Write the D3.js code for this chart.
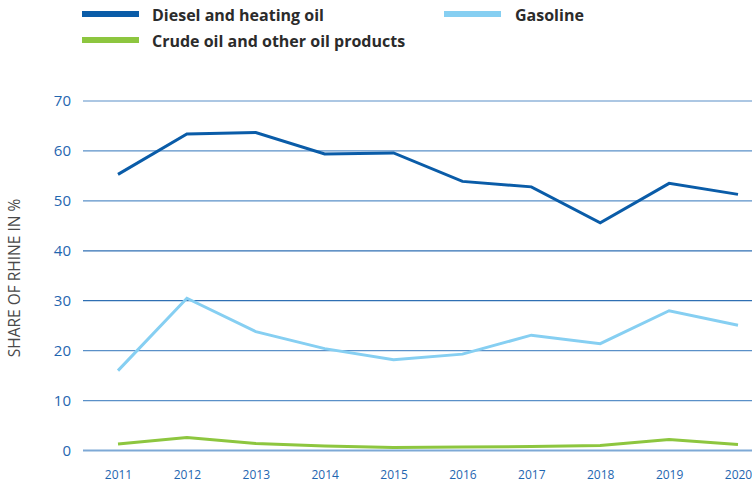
<!DOCTYPE html>
<html><head><meta charset="utf-8">
<script src="https://cdn.jsdelivr.net/npm/d3@7/dist/d3.min.js"></script>
<style>body{margin:0;background:#fff}svg{display:block}</style>
</head><body><svg id="c" width="752" height="482"></svg>
<script>
const years = [2011,2012,2013,2014,2015,2016,2017,2018,2019,2020];
const diesel = [55.3,63.4,63.7,59.4,59.6,53.9,52.8,45.6,53.5,51.3];
const gasoline = [16.0,30.5,23.8,20.4,18.2,19.3,23.1,21.4,28.0,25.1];
const crude = [1.3,2.6,1.4,0.9,0.6,0.7,0.8,1.0,2.2,1.2];
const yTicks = [0,10,20,30,40,50,60,70];
const seriesNames = ["Diesel and heating oil","Gasoline","Crude oil and other oil products"];
const colors = ["#0a5ca8","#86cff2","#8dc63f"];

const svg = d3.select("#c");
const x = d3.scalePoint().domain(years).range([118,738]);
const y = d3.scaleLinear().domain([0,70]).range([450.5,101]);

// grid
svg.append("g").selectAll("line").data(yTicks).join("line")
  .attr("x1",83).attr("x2",752)
  .attr("y1",d=>y(d)).attr("y2",d=>y(d))
  .attr("stroke",d=>d===0?"#7ea9d6":(d===30||d===40?"#2f6fb3":"#5a90c8"))
  .attr("stroke-width",d=>d===0?2:1.2);

// y labels
const yAxis = d3.axisLeft(y).tickValues(yTicks).tickSize(0).tickPadding(0);
const ga = svg.append("g").attr("transform","translate(71,0)").call(yAxis);
ga.select(".domain").remove();
ga.selectAll("text").attr("fill","#1f66b0").style("font-family","'Open Sans',sans-serif").style("font-size","15px");

// x labels
const xAxis = d3.axisBottom(x).tickSize(0).tickPadding(0);
const gx = svg.append("g").attr("transform","translate(0,470)").call(xAxis);
gx.select(".domain").remove();
gx.selectAll("text").attr("fill","#1f66b0").style("font-family","'Open Sans',sans-serif").style("font-size","12px");

// y title
svg.append("text").attr("transform","translate(20,278) rotate(-90)")
  .attr("text-anchor","middle").attr("fill","#4a4a4a")
  .style("font-family","'Open Sans',sans-serif").style("font-size","15.5px")
  .text("SHARE OF RHINE IN %");

// lines
const line = d3.line().x((d,i)=>x(years[i])).y(d=>y(d));
[diesel,gasoline,crude].forEach((s,k)=>{
  svg.append("path").datum(s).attr("d",line).attr("fill","none")
    .attr("stroke",colors[k]).attr("stroke-width",3).attr("stroke-linejoin","miter");
});

// legend
const leg = [
  {i:0,x1:82,x2:139,ly:14,tx:152},
  {i:1,x1:444,x2:501,ly:14,tx:515},
  {i:2,x1:82,x2:139,ly:40,tx:152}
];
leg.forEach(l=>{
  svg.append("line").attr("x1",l.x1).attr("x2",l.x2).attr("y1",l.ly).attr("y2",l.ly)
    .attr("stroke",colors[l.i]).attr("stroke-width",6);
  svg.append("text").attr("x",l.tx).attr("y",l.ly+6.5).attr("fill","#2b2b2b")
    .style("font-family","'Open Sans',sans-serif").style("font-weight","bold").style("font-size","16px")
    .text(seriesNames[l.i]);
});
</script></body></html>
